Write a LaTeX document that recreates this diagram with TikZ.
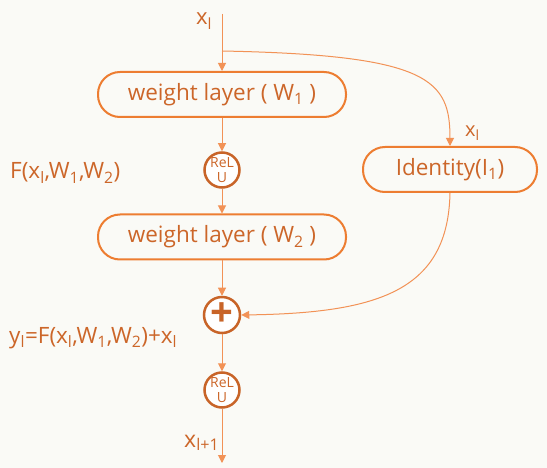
\documentclass[tikz,border=0pt]{standalone}
\usepackage{fontspec}
\setmainfont{Open Sans}
\usetikzlibrary{arrows.meta}
\definecolor{bgcol}{RGB}{250,250,246}
\definecolor{boxline}{RGB}{237,125,49}
\definecolor{txtcol}{RGB}{204,102,41}
\definecolor{linkcol}{RGB}{242,146,86}
\definecolor{ringcol}{RGB}{200,100,40}
\tikzset{
    layerbox/.style={draw=boxline,line width=2pt,rounded corners=22pt,minimum height=45pt,
        text=txtcol,font=\fontsize{22.5}{26}\selectfont},
    relunode/.style={circle,draw=ringcol,line width=2.5pt,fill=white,minimum size=35pt,inner sep=0pt,
        text=txtcol,align=center,font=\fontsize{14}{14.5}\selectfont},
    sumnode/.style={circle,draw=ringcol,line width=2.5pt,fill=white,minimum size=36pt,inner sep=0pt,
        text=ringcol,font=\fontsize{40}{40}\selectfont\bfseries},
    lbl/.style={text=txtcol,inner sep=0pt,font=\fontsize{22.5}{26}\selectfont},
    link/.style={draw=linkcol,line width=1pt,-{Triangle[width=8pt,length=8pt]}}
}
\begin{document}
\begin{tikzpicture}[x=1pt,y=-1pt]
        \fill[bgcol] (0,0) rectangle (547,468);
        \useasboundingbox (0,0) rectangle (547,468);
        % main column
        \coordinate (xin) at (222,14);
        \coordinate (split) at (222,51);
        \coordinate (xout) at (222,463);
        \node[layerbox,minimum width=248pt] (wl1) at (222,94.5) {weight layer ( W\textsubscript{1} )};
        \node[relunode] (relu1) at (222,170) {ReL\\U};
        \node[layerbox,minimum width=248pt] (wl2) at (222,237) {weight layer ( W\textsubscript{2} )};
        \node[sumnode] (sum) at (222,315) {+};
        \node[relunode] (relu2) at (222,390) {ReL\\U};
        % shortcut branch
        \node[layerbox,minimum width=174pt] (ident) at (450,169.5) {Identity(I\textsubscript{1})};
        % labels
        \node[lbl,anchor=base west,font=\fontsize{22}{24}\selectfont] (xtop) at (196,25) {x\textsubscript{l}};
        \node[lbl,anchor=base west,font=\fontsize{20}{24}\selectfont] (xid) at (465,137) {x\textsubscript{l}};
        \node[lbl,anchor=base west] (flbl) at (10,179) {F(x\textsubscript{l},W\textsubscript{1},W\textsubscript{2})};
        \node[lbl,anchor=base west] (ylbl) at (9,343) {y\textsubscript{l}=F(x\textsubscript{l},W\textsubscript{1},W\textsubscript{2})+x\textsubscript{l}};
        \node[lbl,anchor=base west,font=\fontsize{23}{26}\selectfont] (xnext) at (184,447) {x\textsubscript{l+1}};
        % connectors
        \draw[linkcol,line width=1pt] (xin) -- (split);
        \draw[link] (split) -- (wl1);
        \draw[link] (wl1) -- (relu1);
        \draw[link] (relu1) -- (wl2);
        \draw[link] (wl2) -- (sum);
        \draw[link] (sum) -- (relu2);
        \draw[link] (relu2) -- (xout);
        \draw[link] (split) .. controls (430,55) and (450,80) .. (ident.north);
        \draw[link] (ident.south) .. controls (448,290) and (380,313) .. (sum.east);
\end{tikzpicture}
\end{document}
